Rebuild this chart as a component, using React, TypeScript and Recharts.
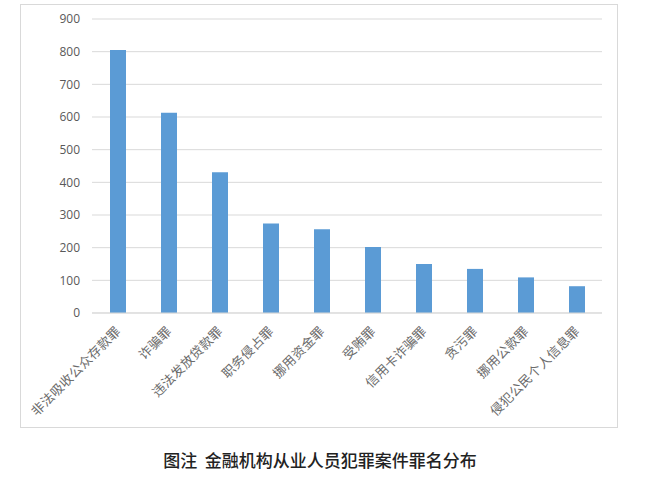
import React from "react";
import { BarChart, Bar, XAxis, YAxis, CartesianGrid } from "recharts";

const categories = [
  "非法吸收公众存款罪",
  "诈骗罪",
  "违法发放贷款罪",
  "职务侵占罪",
  "挪用资金罪",
  "受贿罪",
  "信用卡诈骗罪",
  "贪污罪",
  "挪用公款罪",
  "侵犯公民个人信息罪",
];
const counts = [805, 613, 431, 274, 256, 202, 150, 135, 109, 82];
const yTicks = [0, 100, 200, 300, 400, 500, 600, 700, 800, 900];
const title = "图注  金融机构从业人员犯罪案件罪名分布";

const data = categories.map((name, i) => ({ name, value: counts[i] }));

const XTick = (props: any) => {
  const { x, y, payload } = props;
  const tx = x + 4;
  const ty = y + 11;
  return (
    <text
      x={tx}
      y={ty}
      textAnchor="end"
      transform={`rotate(-45, ${tx}, ${ty})`}
      fill="#6b6b6b"
      fontSize={13}
      letterSpacing={0.3}
      fontFamily="'Noto Sans CJK SC', sans-serif"
    >
      {payload.value}
    </text>
  );
};

export default function App() {
  return (
    <div style={{ position: "absolute", left: 0, top: 0, width: 660, height: 481, background: "#fff" }}>
      <div
        style={{
          position: "absolute",
          left: 20,
          top: 4,
          width: 596,
          height: 422,
          border: "1px solid #D9D9D9",
        }}
      />
      <div style={{ position: "absolute", left: 0, top: 0 }}>
        <BarChart
          width={660}
          height={432}
          data={data}
          margin={{ top: 19, right: 58, bottom: 19, left: 40 }}
          barCategoryGap={0}
        >
          <CartesianGrid vertical={false} stroke="#D9D9D9" />
          <XAxis
            dataKey="name"
            interval={0}
            height={100}
            tickLine={false}
            axisLine={{ stroke: "#D9D9D9" }}
            tick={<XTick />}
          />
          <YAxis
            width={52}
            domain={[0, 900]}
            ticks={yTicks}
            axisLine={false}
            tickLine={false}
            tickSize={0}
            tickMargin={12}
            tick={{ fill: "#595959", fontSize: 12, fontFamily: "'Open Sans', sans-serif" }}
          />
          <Bar dataKey="value" fill="#5B9BD5" barSize={16} isAnimationActive={false} />
        </BarChart>
      </div>
      <div
        style={{
          position: "absolute",
          left: 0,
          width: 640,
          top: 448,
          textAlign: "center",
          fontFamily: "'Noto Sans CJK SC', sans-serif",
          fontSize: 17,
          fontWeight: 500,
          color: "#222",
          whiteSpace: "pre",
          lineHeight: "24px",
        }}
      >
        {title}
      </div>
    </div>
  );
}
